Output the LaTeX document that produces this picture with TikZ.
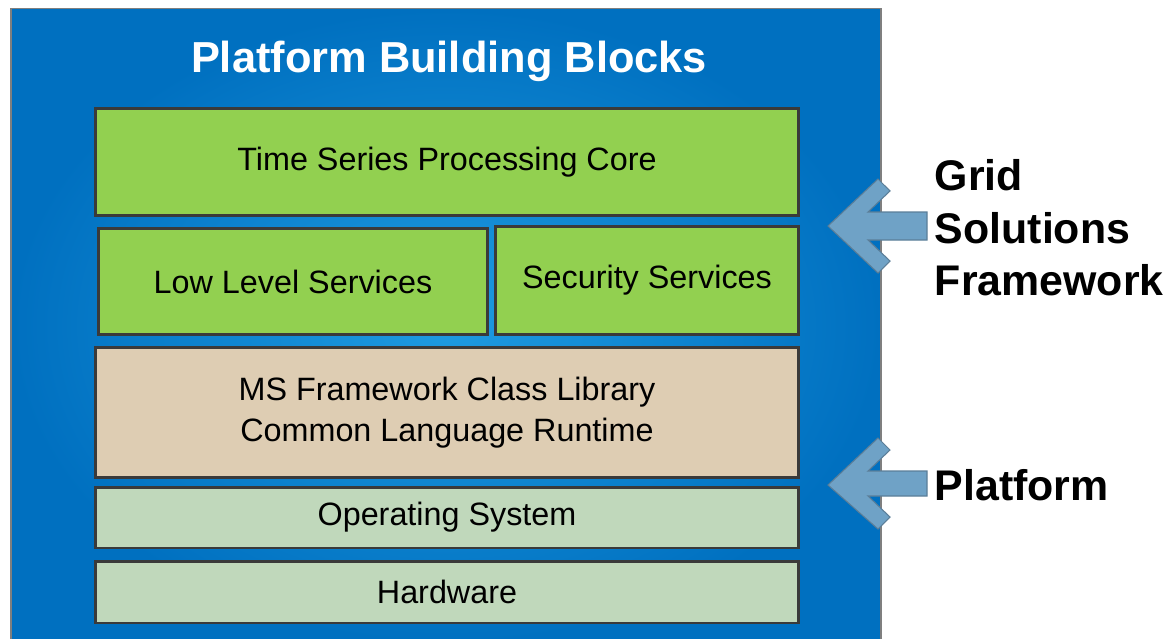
\documentclass[tikz,border=0pt]{standalone}
\usepackage{fontspec}
\setmainfont{Liberation Sans}
\usepackage{tikz}
\usetikzlibrary{positioning}
\definecolor{panelblue}{HTML}{0070C0}
\definecolor{glowblue}{HTML}{1E9BE1}
\definecolor{edgegray}{HTML}{7F7F7F}
\definecolor{framegray}{HTML}{3A3A3A}
\definecolor{leafgreen}{HTML}{92D050}
\definecolor{sand}{HTML}{DECDB3}
\definecolor{sage}{HTML}{C0D8BB}
\definecolor{arrowfill}{HTML}{6FA2C6}
\definecolor{arrowline}{HTML}{5B7E98}

\begin{document}
\begin{tikzpicture}[
  x=0.02cm, y=-0.02cm,
  panel/.style={draw=edgegray, line width=0.8pt, inner sep=0pt,
                inner color=glowblue, outer color=panelblue},
  layer/.style={draw=framegray, line width=1.7pt, inner sep=0pt,
                font=\fontsize{18.4}{23.4}\selectfont, align=center, text=black},
  title/.style={font=\bfseries\fontsize{24.7}{29}\selectfont, text=white},
  sidelabel/.style={font=\bfseries\fontsize{24.4}{29.8}\selectfont, align=left,
                    inner sep=0pt, anchor=west},
  blockarrow/.style={fill=arrowfill, draw=arrowline, line width=0.6pt, line join=miter}
]
\useasboundingbox (0,0) rectangle (1171,639);

% --- Panel ---
\node[panel, minimum width=17.4cm, minimum height=12.7cm] (pbb) at (446,326) {};
\node[title] (pbbtitle) at (449,61) {Platform Building Blocks};

% --- Layers ---
\node[layer, fill=leafgreen, minimum width=14.08cm, minimum height=2.16cm] (tspc) at (447,162) {Time Series Processing Core};
\node[layer, fill=leafgreen, minimum width=7.8cm,   minimum height=2.14cm] (lls)  at (293,281.5) {Low Level Services};
\node[layer, fill=leafgreen, minimum width=6.08cm,  minimum height=2.18cm] (sec)  at (647,280.5) {Security Services};
\node[layer, fill=sand,      minimum width=14.08cm, minimum height=2.62cm] (msf)  at (447,412.5) {MS Framework Class Library\\Common Language Runtime};
\node[layer, fill=sage,      minimum width=14.08cm, minimum height=1.22cm] (os)   at (447,517.5) {Operating System};
\node[layer, fill=sage,      minimum width=14.08cm, minimum height=1.24cm] (hw)   at (447,592) {Hardware};

% --- Side arrows ---
\coordinate (gsftip) at (828,226);
\coordinate (gsftail) at (927,228);
\draw[blockarrow] (gsftip) -- ++(50,-47) -- ++(12,12) -- ++(-22,21) -- ++(59,0)
  -- ++(0,28) -- ++(-59,0) -- ++(22,21) -- ++(-12,12) -- cycle;
\node[sidelabel, right=0.15cm of gsftail] (gsf) {Grid\\Solutions\\Framework};

\coordinate (plattip) at (828,485);
\coordinate (plattail) at (927,485);
\draw[blockarrow] (plattip) -- ++(50,-47) -- ++(12,12) -- ++(-22,21) -- ++(59,0)
  -- ++(0,25) -- ++(-59,0) -- ++(22,21) -- ++(-12,12) -- cycle;
\node[sidelabel, right=0.15cm of plattail] (plat) {Platform};

\end{tikzpicture}
\end{document}
